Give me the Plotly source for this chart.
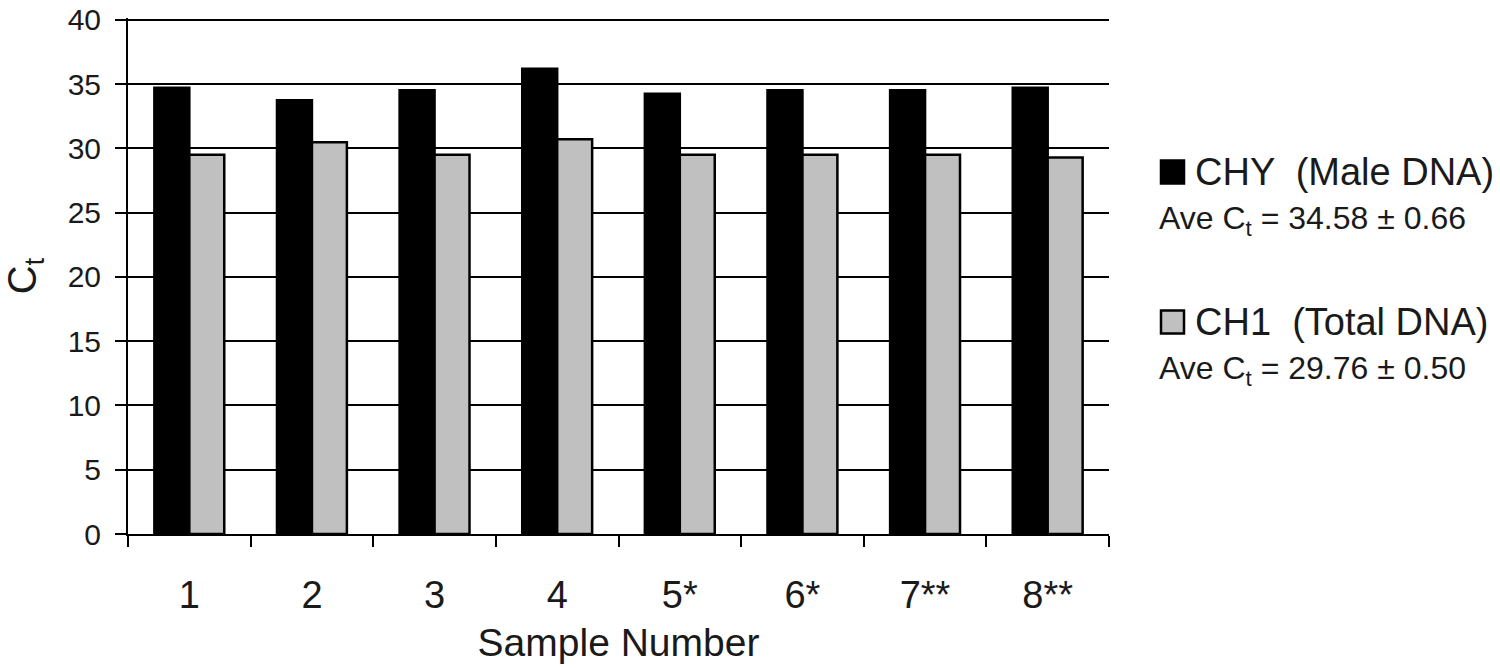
import plotly.graph_objects as go

samples = ["1", "2", "3", "4", "5*", "6*", "7**", "8**"]
chy_ct = [34.73, 33.75, 34.52, 36.2, 34.26, 34.52, 34.52, 34.73]
ch1_ct = [29.5, 30.48, 29.5, 30.72, 29.5, 29.5, 29.5, 29.3]
series_names = ["CHY  (Male DNA)", "CH1  (Total DNA)"]
series_ave = ["Ave C<sub>t</sub> = 34.58 ± 0.66", "Ave C<sub>t</sub> = 29.76 ± 0.50"]
series_colors = ["#000000", "#c0c0c0"]
y_ticks = [0, 5, 10, 15, 20, 25, 30, 35, 40]

FONT = "Liberation Sans, Arial, sans-serif"
TXT = "#1a1a1a"

# plot area in page pixels (body margin removed by post_script)
L, T, R, B = 128, 18, 1109, 534
W, H = R - L, B - T

fig = go.Figure()
for vals, name, col in zip([chy_ct, ch1_ct], series_names, series_colors):
    fig.add_trace(go.Bar(
        x=samples, y=vals, name=name, showlegend=False,
        marker=dict(color=col, line=dict(color="#000000", width=2.5)),
    ))

fig.update_layout(
    width=1500, height=668,
    margin=dict(l=L, r=1500 - R, t=T, b=668 - B),
    plot_bgcolor="white", paper_bgcolor="white",
    barmode="group", bargap=0.43, bargroupgap=0,
    font=dict(family=FONT, color=TXT),
    xaxis=dict(
        showline=True, linecolor="#000", linewidth=2, automargin=False,
        ticks="outside", tickson="boundaries", ticklen=11, tickwidth=2, tickcolor="#000",
        tickfont=dict(size=38), showgrid=False, ticklabelstandoff=26,
        title=dict(text="Sample Number", font=dict(size=39), standoff=14),
    ),
    yaxis=dict(
        range=[0, 40.15], tickmode="array", tickvals=y_ticks,
        showline=True, linecolor="#000", linewidth=2, automargin=False,
        ticks="outside", ticklen=11, tickwidth=2, tickcolor="#000",
        tickfont=dict(size=30), showgrid=True, gridcolor="#000", gridwidth=2,
        zeroline=False, ticklabelstandoff=8, ticklabeloverflow="allow",
        title=dict(text="C<sub>t</sub>", font=dict(size=40), standoff=22),
    ),
)

def px(xr):
    return (xr - L) / W

def py(yr):
    return (B - yr) / H

# Custom legend (square swatch, name, and average line)
legend_y = [172, 322]  # pixel rows of swatch centers
for yc_ref, name, ave, col in zip(legend_y, series_names, series_ave, series_colors):
    fig.add_shape(type="rect", xref="paper", yref="paper",
                  x0=px(1161), x1=px(1184), y0=py(yc_ref + 11.5), y1=py(yc_ref - 11.5),
                  fillcolor=col, line=dict(color="#000", width=2.5))
    fig.add_annotation(xref="paper", yref="paper", x=px(1193), y=py(yc_ref),
                       xanchor="left", yanchor="middle", showarrow=False,
                       text=name, font=dict(size=38, family=FONT, color=TXT))
    fig.add_annotation(xref="paper", yref="paper", x=px(1157), y=py(yc_ref + 48),
                       xanchor="left", yanchor="middle", showarrow=False,
                       text=ave, font=dict(size=32, family=FONT, color=TXT))

fig.write_html("out.html", config={"displayModeBar": False},
               post_script="document.body.style.margin='0';document.body.style.overflow='hidden';")
